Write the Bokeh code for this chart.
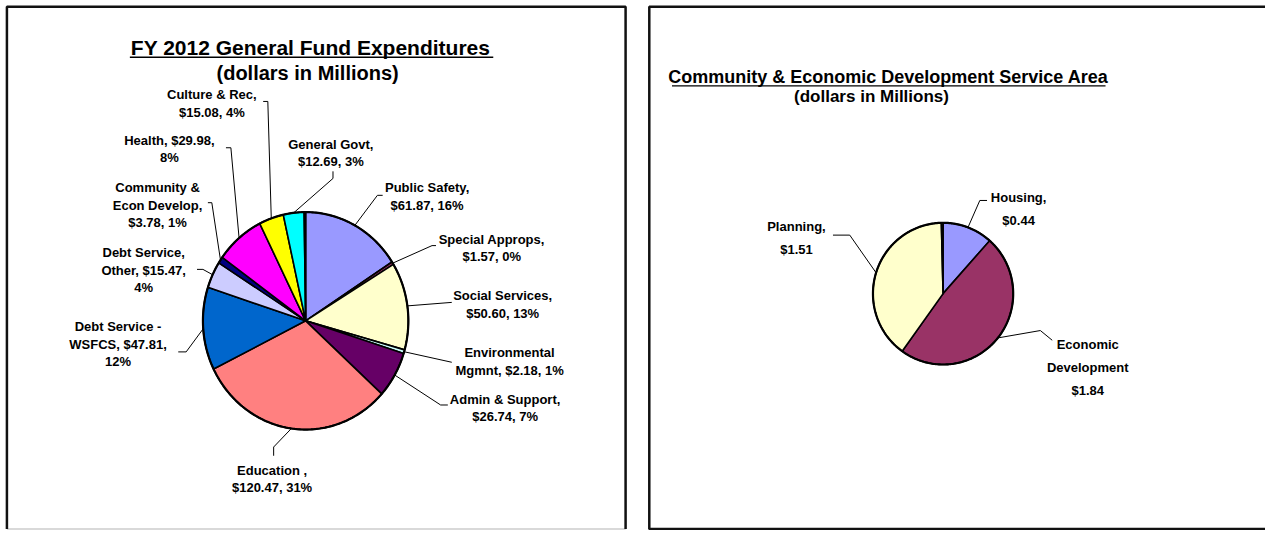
import math
from bokeh.plotting import figure
from bokeh.models import Range1d
from bokeh.embed import file_html
from bokeh.resources import INLINE
from bokeh.core.properties import value

# ---------------- data ----------------
gf_categories = ["Public Safety", "Special Approps", "Social Services", "Environmental Mgmnt",
                 "Admin & Support", "Education", "Debt Service - WSFCS", "Debt Service, Other",
                 "Community & Econ Develop", "Health", "Culture & Rec", "General Govt", "Other"]
gf_values = [61.87, 1.57, 50.60, 2.18, 26.74, 120.47, 47.81, 15.47, 3.78, 29.98, 15.08, 12.69, 0.9]
gf_colors = ["#9999FF", "#993366", "#FFFFCC", "#CCFFFF", "#660066", "#FF8080", "#0066CC",
             "#CCCCFF", "#000080", "#FF00FF", "#FFFF00", "#00FFFF", "#800080"]
gf_label_formats = ["Public Safety,\n${v:.2f}, {p:.0f}%", "Special Approps,\n${v:.2f}, {p:.0f}%",
                    "Social Services,\n${v:.2f}, {p:.0f}%", "Environmental\nMgmnt, ${v:.2f}, {p:.0f}%",
                    "Admin & Support,\n${v:.2f}, {p:.0f}%", "Education ,\n${v:.2f}, {p:.0f}%",
                    "Debt Service -\nWSFCS, ${v:.2f},\n{p:.0f}%", "Debt Service,\nOther, ${v:.2f},\n{p:.0f}%",
                    "Community &\nEcon Develop,\n${v:.2f}, {p:.0f}%", "Health, ${v:.2f},\n{p:.0f}%",
                    "Culture & Rec,\n${v:.2f}, {p:.0f}%", "General Govt,\n${v:.2f}, {p:.0f}%", None]

ced_categories = ["Housing", "Economic Development", "Planning", "Other"]
ced_values = [0.44, 1.84, 1.51, 0.015]
ced_colors = ["#9999FF", "#993366", "#FFFFCC", "#222222"]
ced_label_formats = ["Housing,\n${v:.2f}", "Economic\nDevelopment\n${v:.2f}", "Planning,\n${v:.2f}", None]

gf_title = "FY 2012 General Fund Expenditures"
ced_title = "Community & Economic Development Service Area"
subtitle = "(dollars in Millions)"

# ---------------- layout ----------------
W, H = 1265, 530
FONT = value("Liberation Sans")

p = figure(width=W, height=H, x_range=Range1d(0, 1281), y_range=Range1d(546, 0),
           output_backend="svg", toolbar_location=None, x_axis_type=None, y_axis_type=None,
           min_border=0)
p.grid.visible = False
p.outline_line_color = None
p.background_fill_color = "white"
p.border_fill_color = "white"

# panel frames
p.line([6.5, 633], [544.5, 544.5], line_color="#cccccc", line_width=1.5)
p.line([6.5, 6.5, 633, 633], [544.5, 6.5, 6.5, 544.5], line_color="#111111", line_width=2.5)
p.line([1281, 657, 657, 1281], [6.5, 6.5, 544.5, 544.5], line_color="#111111", line_width=2.5)


def draw_text(lines_xy, size, spacing):
    xs, ys, ts = [], [], []
    for x, y, txt in lines_xy:
        for i, ln in enumerate(txt.split("\n")):
            xs.append(x)
            ys.append(y + i * spacing)
            ts.append(ln)
    p.text(xs, ys, text=ts, text_align="center", text_baseline="middle",
           text_font=FONT, text_font_style="bold", text_font_size=size, text_color="black")


def draw_pie(vals, colors, center, radii, fmts, label_layout, size, spacing):
    cx, cy = center
    rx, ry = radii
    total = sum(vals)
    xs, ys = [], []
    mids = []
    acc = 0.0
    for v in vals:
        a0 = acc / total * 2 * math.pi
        acc += v
        a1 = acc / total * 2 * math.pi
        n = max(2, int((a1 - a0) / (2 * math.pi) * 400))
        px, py = [cx], [cy]
        for k in range(n + 1):
            t = a0 + (a1 - a0) * k / n
            px.append(cx + rx * math.sin(t))
            py.append(cy - ry * math.cos(t))
        xs.append(px)
        ys.append(py)
        mids.append((a0 + a1) / 2)
    p.patches(xs, ys, fill_color=colors, line_color="black", line_width=1.6, line_join="round")
    ex = [cx + rx * math.sin(2 * math.pi * k / 360) for k in range(361)]
    ey = [cy - ry * math.cos(2 * math.pi * k / 360) for k in range(361)]
    p.line(ex, ey, line_color="black", line_width=2.2)
    texts = []
    lx, ly = [], []
    for v, m, f, lay in zip(vals, mids, fmts, label_layout):
        if f is None or lay is None:
            continue
        pct = v / total * 100
        (tx, ty), elbows = lay
        texts.append((tx, ty, f.format(v=v, p=pct)))
        sx, sy = cx + rx * math.sin(m), cy - ry * math.cos(m)
        lx.append([sx] + [e[0] for e in elbows])
        ly.append([sy] + [e[1] for e in elbows])
    p.multi_line(lx, ly, line_color="black", line_width=1)
    draw_text(texts, size, spacing)


gf_layout = [
    ((432, 193), [(381.7, 200.7), (387, 200.7)]),
    ((497.5, 246), [(437, 252.5), (441, 252.5)]),
    ((508.5, 304), [(457, 311)]),
    ((515.5, 363), [(457, 372.7)]),
    ((511, 411), [(445.7, 416.7), (453, 416.7)]),
    ((275, 484), [(276.6, 460), (276.6, 469)]),
    ((119, 336), [(188, 362), (180, 362)]),
    ((145, 260), [(205, 277), (199, 277)]),
    ((159, 193), [(214, 208.3), (210, 208.3)]),
    ((171, 144), [(233.3, 151.7), (228.3, 151.7)]),
    ((214, 97), [(270.7, 104), (266, 104)]),
    ((334.5, 148), [(336.7, 183.3), (336.7, 176)]),
    None,
]
ced_layout = [
    ((1031, 203), [(991.7, 206), (999, 206)]),
    ((1101, 354), [(1053, 340), (1065, 350)]),
    ((806, 233), [(860, 241.7), (843, 241.7)]),
    None,
]

draw_pie(gf_values, gf_colors, (309, 330), (104, 112), gf_label_formats, gf_layout, "13px", 18)
draw_pie(ced_values, ced_colors, (954.5, 302), (71, 73), ced_label_formats, ced_layout, "13px", 24)

# titles
draw_text([(314, 48, gf_title)], "21px", 0)
draw_text([(311, 75, subtitle)], "20px", 0)
p.line([131, 499], [58.5, 58.5], line_color="black", line_width=1.5)
draw_text([(899, 79, ced_title)], "18px", 0)
draw_text([(882, 99, subtitle)], "17px", 0)
p.line([680, 1119], [88, 88], line_color="black", line_width=1.3)

open("out.html", "w").write(file_html(p, INLINE))
